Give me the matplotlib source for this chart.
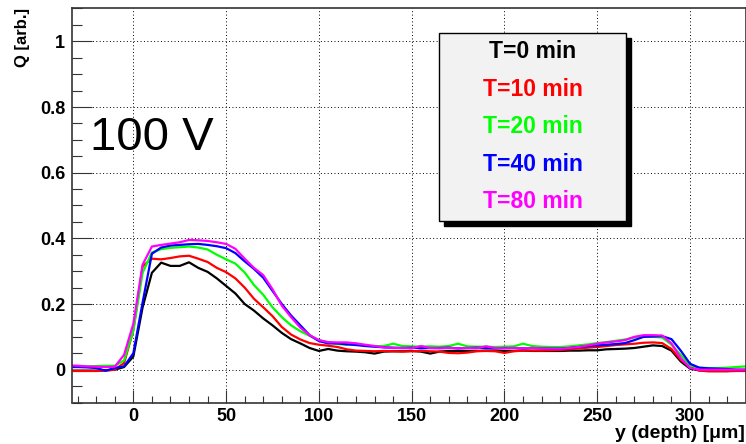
import numpy as np
import matplotlib
matplotlib.use("Agg")
import matplotlib.pyplot as plt
from matplotlib.patches import Rectangle
from matplotlib.ticker import MultipleLocator, FuncFormatter

plt.rcParams['font.family'] = ['Liberation Sans', 'DejaVu Sans']

# depth bins [um]
depth = np.arange(-35, 331, 5)

# collected charge per annealing time
q_0 = [-0.003, -0.003, -0.003, -0.003, -0.002, 0.000, 0.008, 0.040, 0.190, 0.295,
       0.326, 0.316, 0.316, 0.327, 0.310, 0.298, 0.278, 0.255, 0.232, 0.200,
       0.180, 0.156, 0.135, 0.112, 0.093, 0.080, 0.066, 0.057, 0.063, 0.058,
       0.056, 0.055, 0.053, 0.049, 0.055, 0.056, 0.056, 0.057, 0.055, 0.049,
       0.055, 0.057, 0.057, 0.057, 0.057, 0.058, 0.058, 0.057, 0.057, 0.058,
       0.057, 0.057, 0.057, 0.057, 0.058, 0.058, 0.059, 0.059, 0.062, 0.063,
       0.064, 0.066, 0.070, 0.074, 0.072, 0.058, 0.025, 0.003, -0.002, -0.004,
       -0.004, -0.004, -0.003, -0.003]
q_10 = [-0.004, -0.004, -0.004, -0.004, -0.003, 0.000, 0.020, 0.120, 0.315, 0.338,
        0.336, 0.340, 0.345, 0.347, 0.338, 0.328, 0.310, 0.297, 0.278, 0.250,
        0.216, 0.190, 0.163, 0.130, 0.107, 0.092, 0.081, 0.076, 0.073, 0.069,
        0.062, 0.058, 0.057, 0.056, 0.057, 0.056, 0.055, 0.056, 0.057, 0.056,
        0.055, 0.051, 0.050, 0.052, 0.056, 0.057, 0.056, 0.051, 0.056, 0.058,
        0.058, 0.058, 0.059, 0.060, 0.062, 0.065, 0.067, 0.069, 0.072, 0.075,
        0.077, 0.079, 0.082, 0.083, 0.081, 0.063, 0.030, 0.008, -0.003, -0.005,
        -0.005, -0.005, -0.004, -0.004]
q_20 = [0.008, 0.009, 0.010, 0.011, 0.012, 0.012, 0.028, 0.120, 0.295, 0.357,
        0.367, 0.371, 0.373, 0.375, 0.372, 0.366, 0.350, 0.336, 0.323, 0.296,
        0.258, 0.228, 0.190, 0.160, 0.135, 0.117, 0.103, 0.090, 0.083, 0.078,
        0.076, 0.080, 0.073, 0.071, 0.072, 0.079, 0.072, 0.071, 0.070, 0.071,
        0.070, 0.072, 0.079, 0.071, 0.070, 0.070, 0.069, 0.070, 0.071, 0.079,
        0.072, 0.070, 0.069, 0.069, 0.071, 0.074, 0.077, 0.081, 0.084, 0.088,
        0.092, 0.098, 0.100, 0.100, 0.098, 0.076, 0.045, 0.012, 0.006, 0.005,
        0.005, 0.006, 0.008, 0.010]
q_40 = [0.008, 0.008, 0.007, 0.005, -0.003, 0.005, 0.010, 0.050, 0.205, 0.353,
        0.372, 0.378, 0.380, 0.382, 0.383, 0.380, 0.376, 0.370, 0.355, 0.330,
        0.307, 0.280, 0.240, 0.200, 0.165, 0.135, 0.105, 0.087, 0.080, 0.080,
        0.077, 0.075, 0.072, 0.070, 0.068, 0.067, 0.066, 0.067, 0.065, 0.066,
        0.066, 0.067, 0.065, 0.066, 0.067, 0.066, 0.065, 0.066, 0.066, 0.065,
        0.066, 0.065, 0.064, 0.064, 0.066, 0.069, 0.072, 0.074, 0.076, 0.078,
        0.081, 0.090, 0.100, 0.101, 0.102, 0.093, 0.058, 0.018, 0.006, 0.004,
        0.003, 0.002, 0.000, 0.000]
q_80 = [0.013, 0.012, 0.010, 0.009, 0.008, 0.009, 0.045, 0.140, 0.320, 0.375,
        0.380, 0.384, 0.388, 0.395, 0.394, 0.392, 0.388, 0.383, 0.368, 0.338,
        0.310, 0.288, 0.245, 0.195, 0.160, 0.128, 0.105, 0.090, 0.084, 0.083,
        0.083, 0.080, 0.076, 0.072, 0.068, 0.066, 0.066, 0.065, 0.072, 0.066,
        0.065, 0.066, 0.065, 0.066, 0.065, 0.071, 0.066, 0.065, 0.066, 0.065,
        0.066, 0.065, 0.064, 0.064, 0.066, 0.069, 0.074, 0.079, 0.083, 0.086,
        0.090, 0.100, 0.105, 0.105, 0.104, 0.080, 0.035, 0.005, 0.000, 0.000,
        0.000, 0.000, 0.000, 0.000]

series = [q_0, q_10, q_20, q_40, q_80]
labels = ['T=0 min', 'T=10 min', 'T=20 min', 'T=40 min', 'T=80 min']
colors = ['#000000', '#ff0000', '#00ff00', '#0000ff', '#ff00ff']

W, H = 746, 444
fig = plt.figure(figsize=(W / 100, H / 100), dpi=100)
ax = fig.add_axes([72.1 / W, 1 - 402.5 / H, (745.7 - 72.1) / W, (402.5 - 8.5) / H])

for q, c in zip(series, colors):
    ax.plot(depth, q, color=c, lw=1.6)

ax.set_xlim(-33, 330)
ax.set_ylim(-0.1, 1.1)

ax.xaxis.set_major_locator(MultipleLocator(50))
ax.xaxis.set_minor_locator(MultipleLocator(10))
ax.yaxis.set_major_locator(MultipleLocator(0.2))
ax.yaxis.set_minor_locator(MultipleLocator(0.05))
ax.yaxis.set_major_formatter(FuncFormatter(lambda v, p: f'{v:g}'))

ax.grid(True, which='major', color='black', lw=0.7, ls=(0, (1, 2.5)))
ax.tick_params(which='both', direction='in', top=False, right=False,
               width=0.8, color='#333333', labelsize=13)
ax.tick_params(axis='y', which='major', length=14.5, pad=5)
ax.tick_params(axis='y', which='minor', length=7.2)
ax.tick_params(axis='x', which='major', length=9.5, pad=4)
ax.tick_params(axis='x', which='minor', length=5)
for lab in ax.get_xticklabels() + ax.get_yticklabels():
    lab.set_fontweight('bold')
for s in ax.spines.values():
    s.set_linewidth(1.2)
    s.set_color('#333333')

fig.text(22 / W, 1 - 8 / H, 'Q [arb.]', rotation=90, ha='center', va='top',
         fontsize=12, fontweight='bold')
fig.text(745 / W, 1 - 433 / H, 'y (depth) [\u03bcm]', ha='right', va='center',
         fontsize=14, fontweight='bold')

fig.text(90 / W, 1 - 150 / H, '100 V', ha='left', va='baseline', fontsize=34)

# legend box with drop shadow
bx0, by0, bx1, by1 = 439, 33, 626, 221
fig.patches.append(Rectangle(((bx0 + 5) / W, 1 - (by1 + 5) / H), (bx1 - bx0) / W,
                             (by1 - by0) / H, transform=fig.transFigure,
                             facecolor='black', edgecolor='black', zorder=5))
fig.patches.append(Rectangle((bx0 / W, 1 - by1 / H), (bx1 - bx0) / W,
                             (by1 - by0) / H, transform=fig.transFigure,
                             facecolor='#f2f2f2', edgecolor='black', lw=1.0, zorder=6))
for i, (lab, c) in enumerate(zip(labels, colors)):
    fig.text((bx0 + bx1) / 2 / W, 1 - (by0 + 18.7 + 37.5 * i) / H, lab,
             ha='center', va='center', color=c, fontsize=16.5, fontweight='bold', zorder=7)

fig.savefig('out.png', dpi=100)
